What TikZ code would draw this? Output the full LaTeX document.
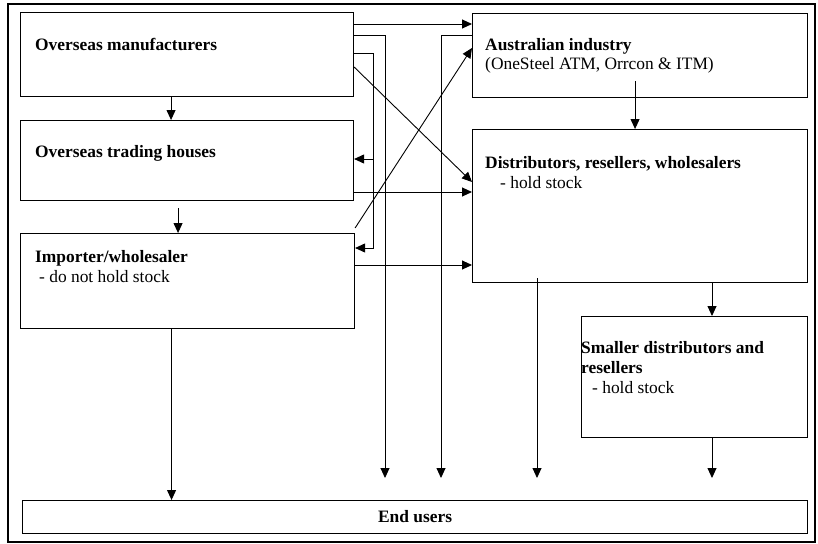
\documentclass[tikz,border=0pt]{standalone}
\usepackage{fontspec}
\setmainfont{Liberation Serif}
\usetikzlibrary{arrows.meta,positioning,calc}
\tikzset{
  >={Triangle[length=10pt,width=9pt]},
  box/.style={draw,line width=1.1pt,anchor=north west,inner sep=0pt},
  flow/.style={->,line width=0.9pt},
  tag/.style={anchor=base west,inner sep=0pt,align=left,
    font=\fontsize{17.4}{20}\selectfont},
}

\begin{document}
\begin{tikzpicture}[x=1pt,y=-1pt]
  \useasboundingbox (0,0) rectangle (818,543);
  \draw[line width=1.1pt] (8,4) rectangle (815,542);
  % boxes
  \foreach \n/\x/\y/\w/\h in {man/20/12/333/84, trd/20/120/333/80, imp/20/233/334/95,
    aus/472/13/335/84, dst/472/129/335/153, sml/581/316/226/121, usr/22/500/785/33}
    \node[box,minimum width=\w pt,minimum height=\h pt] (\n) at (\x,\y) {};
  % texts (base = last line)
  \node[tag] (man-t) at ([xshift=15pt,yshift=-38pt]man.north west) {\textbf{Overseas manufacturers}};
  \node[tag] (trd-t) at ([xshift=15pt,yshift=-37pt]trd.north west) {\textbf{Overseas trading houses}};
  \node[tag] (imp-t) at ([xshift=15pt,yshift=-49pt]imp.north west) {\textbf{Importer/wholesaler}\\\hspace*{4pt}- do not hold stock};
  \node[tag] (aus-t) at ([xshift=13pt,yshift=-57pt]aus.north west) {\textbf{Australian industry}\\(OneSteel ATM, Orrcon \& ITM)};
  \node[tag] (dst-t) at ([xshift=13pt,yshift=-59pt]dst.north west) {\textbf{Distributors, resellers, wholesalers}\\\hspace*{15pt}- hold stock};
  \node[tag] (sml-t) at ([yshift=-77pt]sml.north west) {\textbf{Smaller distributors and}\\\textbf{resellers}\\\hspace*{11pt}- hold stock};
  \node[tag,anchor=center] (usr-t) at (usr.center) {\textbf{End users}};
  % connection points
  \coordinate (busA) at (373,0);
  \coordinate (busB) at (385,0);
  \coordinate (busC) at (441,0);
  \coordinate (busD) at (537,0);
  \coordinate (busE) at (712,0);
  \coordinate (drop) at ([yshift=22pt]usr.north);
  \coordinate (m0) at ([xshift=-16pt]man.south);
  \coordinate (m1) at ([yshift=-12pt]man.north east);
  \coordinate (m2) at ([yshift=-23pt]man.north east);
  \coordinate (m3) at ([yshift=-41pt]man.north east);
  \coordinate (m4) at ([yshift=-55pt]man.north east);
  \coordinate (t0) at ([xshift=-9pt,yshift=-7pt]trd.south);
  \coordinate (t1) at ([yshift=-39pt]trd.north east);
  \coordinate (t2) at ([yshift=-72pt]trd.north east);
  \coordinate (i0) at ([yshift=5pt]imp.north east);
  \coordinate (i1) at ([yshift=-15pt]imp.north east);
  \coordinate (i2) at ([yshift=-32pt]imp.north east);
  \coordinate (i3) at ([xshift=-16pt]imp.south);
  \coordinate (a0) at ([xshift=-5pt,yshift=17pt]aus.south);
  \coordinate (a1) at ([yshift=-22pt]aus.north west);
  \coordinate (a2) at ([yshift=-35pt]aus.north west);
  \coordinate (d0) at ([yshift=5pt]dst.south);
  % connectors
  \draw[flow] (m0) -- (m0 |- trd.north);
  \draw[flow] (t0) -- (t0 |- imp.north);
  \draw[flow] (i3) -- (i3 |- usr.north);
  \draw[flow] (m1) -- (m1 -| aus.west);
  \draw[flow] (m2) -| (busB |- drop);
  \draw[flow] (m3) -| (busA |- i1) -- (i1);
  \draw[flow] (busA |- t1) -- (t1);
  \draw[flow] (m4) -- ([yshift=-53pt]dst.north west);
  \draw[flow] (t2) -- (t2 -| dst.west);
  \draw[flow] (i0) -- (a2);
  \draw[flow] (i2) -- (i2 -| dst.west);
  \draw[flow] (a1) -| (busC |- drop);
  \draw[flow] (a0) -- (a0 |- dst.north);
  \draw[flow] (d0 -| busD) -- (busD |- drop);
  \draw[flow] (dst.south -| busE) -- (sml.north -| busE);
  \draw[flow] (sml.south -| busE) -- (busE |- drop);
\end{tikzpicture}
\end{document}
